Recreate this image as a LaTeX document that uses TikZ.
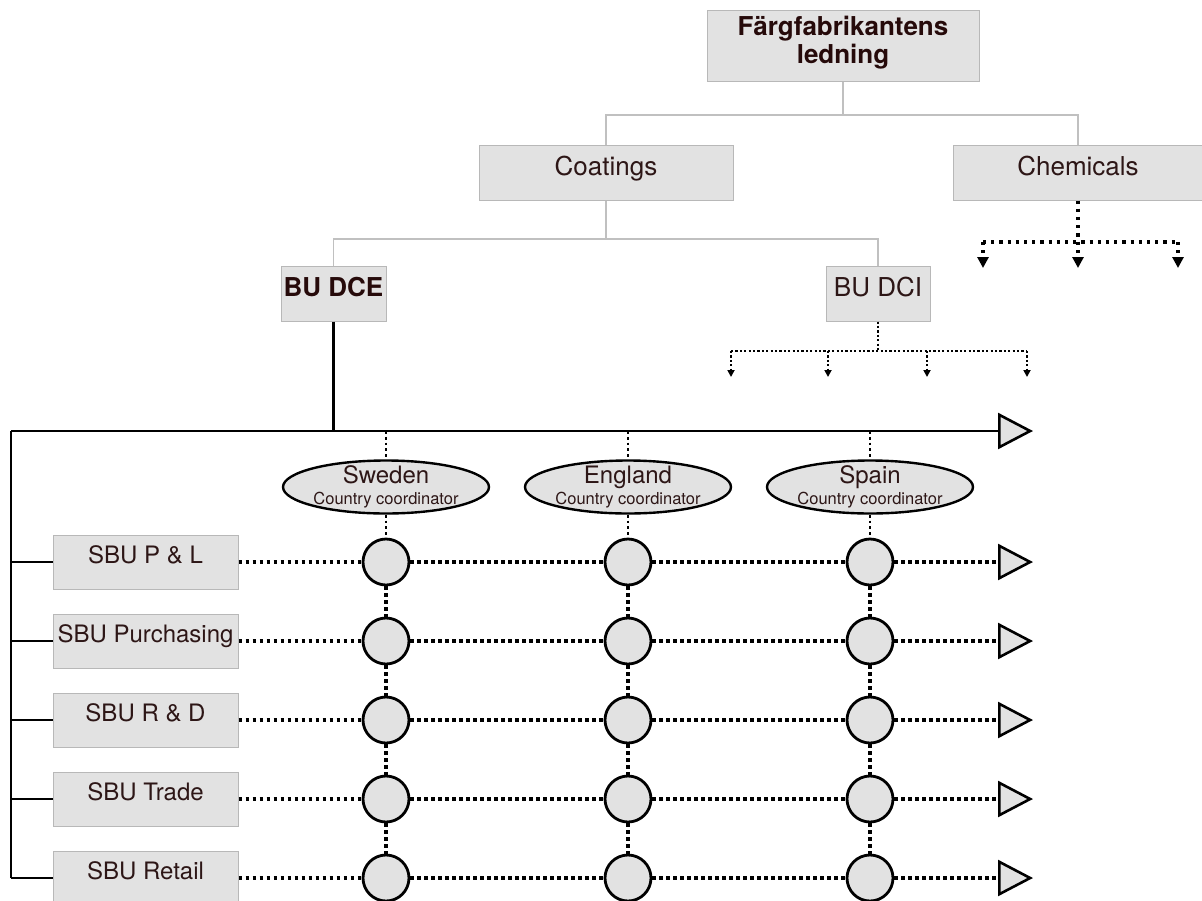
\documentclass[tikz,border=0pt]{standalone}
\usepackage{fontspec}
\setmainfont{TeX Gyre Heros}
\usetikzlibrary{arrows.meta,shapes.geometric,calc}

\definecolor{ink}{RGB}{45,22,22}
\definecolor{boldink}{RGB}{38,10,10}
\definecolor{boxfill}{RGB}{226,226,226}
\definecolor{boxline}{RGB}{184,184,184}
\definecolor{treeline}{RGB}{192,192,192}

\begin{document}
\begin{tikzpicture}[x=1pt,y=-1pt,
  unit/.style={draw=boxline, line width=1pt, fill=boxfill, inner sep=0pt,
               text=ink, align=center},
  bigbox/.style={unit, minimum height=55pt, font=\fontsize{26}{28}\selectfont,
                 text height=19pt, text depth=14pt},
  sbu/.style={unit, minimum width=185pt, minimum height=54pt,
              font=\fontsize{24}{28}\selectfont, text height=17pt, text depth=14pt},
  tree/.style={draw=treeline, line width=1.3pt},
  solidlink/.style={draw=black, line width=2.8pt},
  dots/.style={draw=black, line width=3.5pt, dash pattern=on 3.2pt off 3.8pt},
  vdots/.style={draw=black, line width=2.8pt, dash pattern=on 2.8pt off 3pt},
  chemdots/.style={draw=black, line width=3.3pt, dash pattern=on 3.2pt off 5pt},
  thindots/.style={draw=black, line width=2.3pt, dash pattern=on 2.2pt off 2.2pt},
  hub/.style={circle, draw=black, line width=2.8pt, fill=boxfill,
              minimum size=46pt, inner sep=0pt},
  oval/.style={ellipse, draw=black, line width=2.4pt, fill=boxfill,
               minimum width=206pt, minimum height=53pt, inner sep=0pt},
  ovaltext/.style={inner sep=0pt, text=ink, align=center,
                   font=\fontsize{16.5}{21}\selectfont, text height=39pt, text depth=5pt},
  bigtip/.style={-{Triangle[length=35pt, width=36pt, fill=boxfill, line width=2.6pt]}},
  chemtip/.style={-{Triangle[length=11pt, width=11pt]}},
  dcitip/.style={-{Triangle[length=7pt, width=7pt]}},
]
\useasboundingbox (0,0) rectangle (1202,900);

% ---- upper hierarchy ----
\node[unit, minimum width=272pt, minimum height=71pt, font=\bfseries\fontsize{26}{28}\selectfont,
      text=boldink, text height=47pt, text depth=12pt] (top) at (843,45.5)
      {Färgfabrikantens\\ledning};
\node[bigbox, minimum width=254pt] (coat) at (606,172.5) {Coatings};
\node[bigbox, minimum width=250pt] (chem) at (1078,172.5) {Chemicals};
\node[bigbox, minimum width=105pt, font=\bfseries\fontsize{26}{28}\selectfont, text=boldink]
      (dce) at (333.5,293.5) {BU DCE};
\node[bigbox, minimum width=104pt] (dci) at (878,293.5) {BU DCI};

\coordinate (tj) at (843,115);
\draw[tree] (top.south) -- (tj) -| (coat.north);
\draw[tree] (tj) -| (chem.north);
\coordinate (cj) at (606,239);
\draw[tree] (coat.south) -- (cj) -| (dce.north);
\draw[tree] (cj) -| (dci.north);

% Chemicals: open-ended dotted branches
\coordinate (chj) at (1078,242);
\coordinate (chL) at (983,242);
\coordinate (chR) at (1178,242);
\draw[chemdots] (chem.south) -- (chj);
\draw[chemdots] (chL) -- (chR);
\foreach \c in {chL,chj,chR}
  \draw[chemdots, chemtip] (\c) -- ++(0,26);

% BU DCI: open-ended dotted branches
\coordinate (dcij) at (878,351);
\coordinate (dL) at (731,351);
\coordinate (dM) at (828,351);
\coordinate (dN) at (927,351);
\coordinate (dR) at (1027,351);
\draw[thindots] (dci.south) -- (dcij);
\draw[thindots] (dL) -- (dR);
\foreach \c in {dL,dM,dN,dR}
  \draw[thindots, dcitip] (\c) -- ++(0,26);

% ---- BU DCE matrix ----
\coordinate (spineL) at (11,431);
\coordinate (spineR) at (1033,431);
\draw[solidlink] (dce.south) -- (dce.south |- spineL);
\draw[solidlink, bigtip] (spineL) -- (spineR);

\foreach \lbl [count=\i] in {{SBU P \& L},{SBU Purchasing},{SBU R \& D},{SBU Trade},{SBU Retail}} {
  \node[sbu] (r\i) at (145.5,{562+79*(\i-1)}) {\lbl};
  \coordinate (end\i) at (1033,{562+79*(\i-1)});
}

\foreach \nm/\x/\land in {swe/386/Sweden, eng/628/England, spa/870/Spain} {
  \node[oval] (\nm) at (\x,487) {};
  \node[ovaltext] (\nm-t) at (\nm.center)
    {{\fontsize{24}{21}\selectfont \land}\\Country coordinator};
  \foreach \i in {1,...,5}
    \node[hub] (\nm\i) at (\x,{562+79*(\i-1)}) {};
}

\foreach \nm in {swe,eng,spa} {
  \draw[vdots] (\nm |- spineL) -- (\nm.north);
  \draw[vdots] (\nm.south) -- (\nm1.north);
  \foreach \i/\j in {1/2,2/3,3/4,4/5}
    \draw[dots] (\nm\i.south) -- (\nm\j.north);
}

\draw[solidlink] (spineL) -- (spineL |- r5.west);
\foreach \i in {1,...,5} {
  \draw[solidlink] (spineL |- r\i.west) -- (r\i.west);
  \draw[dots] (r\i.east) -- (swe\i.west);
  \draw[dots] (swe\i.east) -- (eng\i.west);
  \draw[dots] (eng\i.east) -- (spa\i.west);
  \draw[dots, bigtip] (spa\i.east) -- (end\i);
}
\end{tikzpicture}
\end{document}
